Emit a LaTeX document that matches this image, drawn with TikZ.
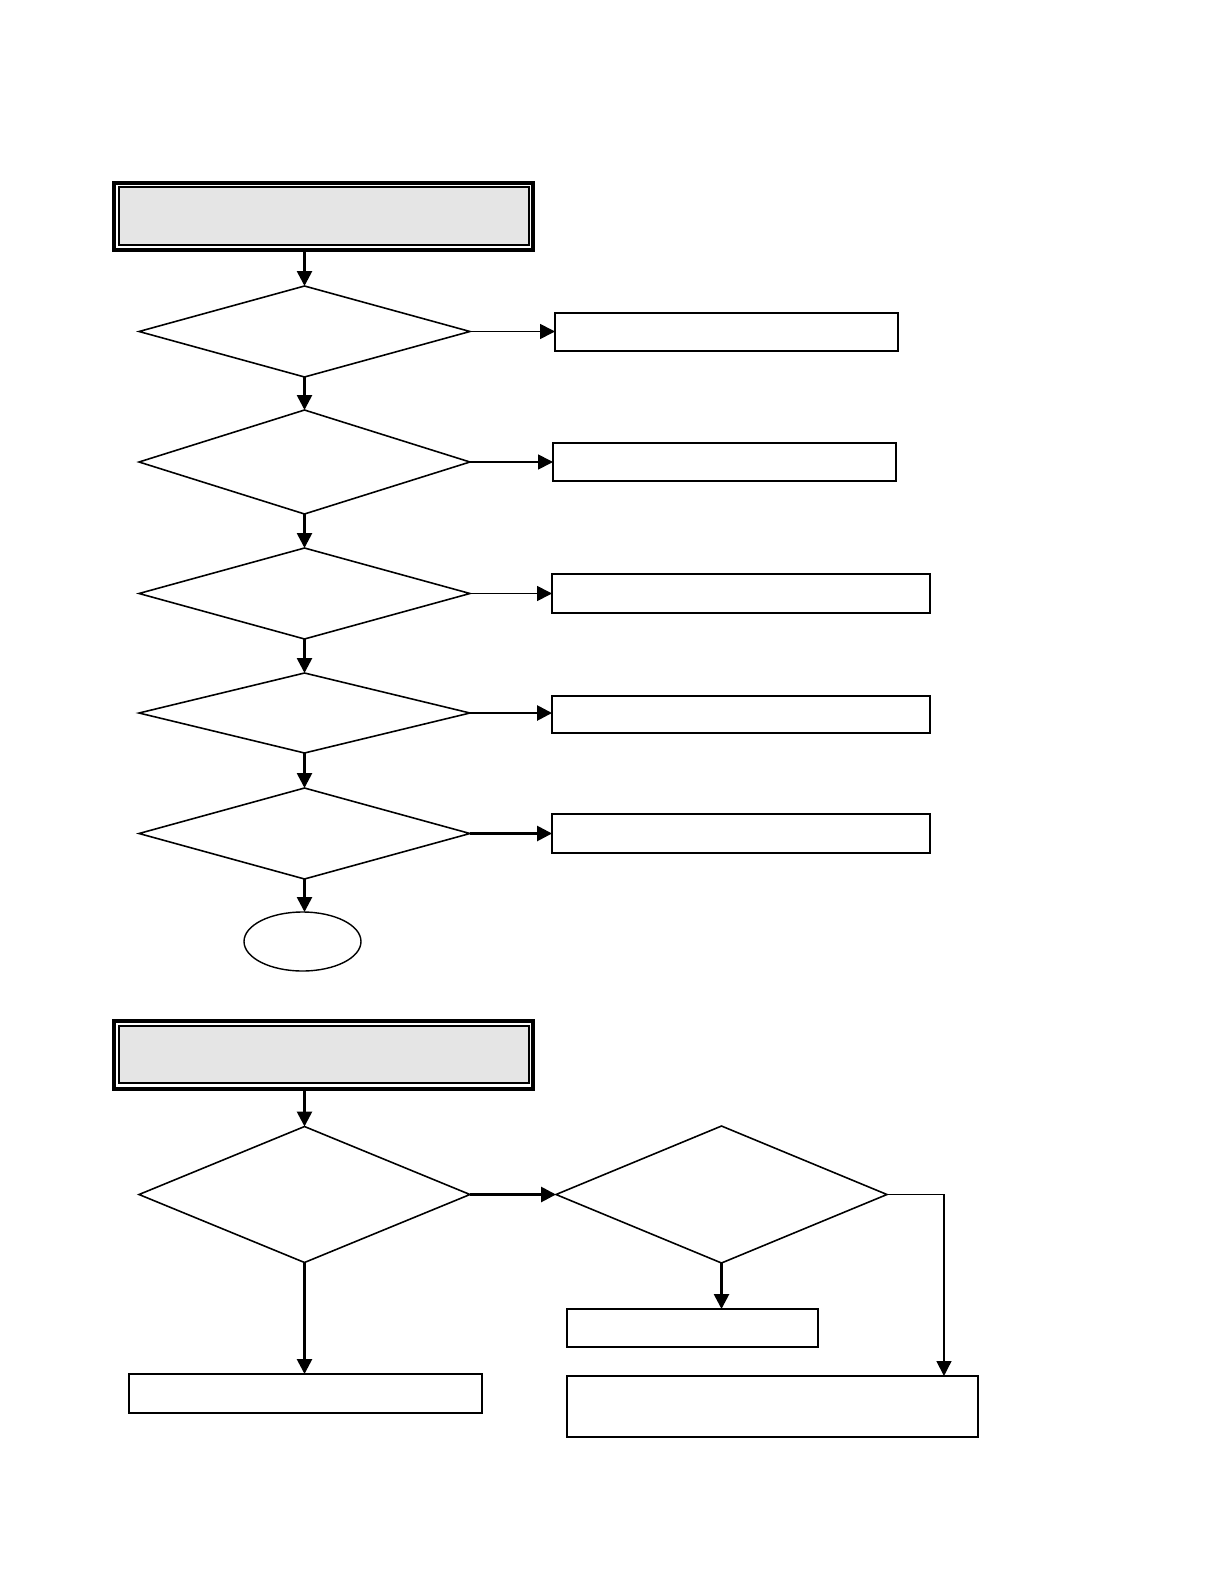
\documentclass[tikz,border=0pt]{standalone}
\usepackage{tikz}
\usetikzlibrary{positioning, arrows.meta, shapes.geometric}

\begin{document}
\begin{tikzpicture}[
    x=0.02cm, y=-0.02cm,
    >={Triangle[length=8.5pt, width=8.5pt]},
    head_box/.style={draw, line width=2pt, fill=white, inner sep=0pt, outer sep=0pt},
    head_in/.style={draw, line width=1.4pt, fill=black!10, inner sep=0pt, outer sep=0pt},
    dec_box/.style={draw, diamond, line width=0.9pt, inner sep=0pt, outer sep=0pt, minimum width=6.62cm},
    act_box/.style={draw, line width=1.2pt, inner sep=0pt, outer sep=0pt},
    thin_box/.style={draw, line width=0.7pt, inner sep=0pt, outer sep=0pt},
    end_box/.style={draw, ellipse, line width=0.8pt, inner sep=0pt, outer sep=0pt, minimum width=2.34cm, minimum height=1.18cm},
    arrow/.style={->, line width=1.5pt},
    thin_arrow/.style={->, line width=0.8pt}
]
\useasboundingbox (0,0) rectangle (1220,1588);

% First chart
\node[head_box, minimum width=8.38cm, minimum height=1.34cm] (head1) at (323.5,216.5) {};
\node[head_in, minimum width=8.2cm, minimum height=1.16cm] (head1in) at (324,216) {};

\node[dec_box, minimum height=1.82cm] (d1) at (304.5,331.5) {};
\node[dec_box, minimum height=2.08cm] (d2) at (304.5,462) {};
\node[dec_box, minimum height=1.82cm] (d3) at (304.5,593.5) {};
\node[dec_box, minimum height=1.6cm] (d4) at (304.5,713) {};
\node[dec_box, minimum height=1.82cm] (d5) at (304.5,833.5) {};
\node[end_box] (end) at (302.5,941.5) {};

\node[act_box, minimum width=6.86cm, minimum height=0.76cm] (b1) at (726.5,332) {};
\node[act_box, minimum width=6.86cm, minimum height=0.76cm] (b2) at (724.5,462) {};
\node[act_box, minimum width=7.56cm, minimum height=0.78cm] (b3) at (741,593.5) {};
\node[thin_box, minimum width=7.56cm, minimum height=0.74cm] (b4) at (741,714.5) {};
\node[thin_box, minimum width=7.56cm, minimum height=0.78cm] (b5) at (741,833.5) {};

% Second chart
\node[head_box, minimum width=8.38cm, minimum height=1.36cm] (head2) at (323.5,1055) {};
\node[head_in, minimum width=8.2cm, minimum height=1.14cm] (head2in) at (324,1054.5) {};

\node[dec_box, minimum height=2.72cm] (d6) at (304.5,1194.5) {};
\node[dec_box, minimum height=2.74cm] (d7) at (721.5,1194.5) {};

\node[act_box, minimum width=7.06cm, minimum height=0.78cm] (b6) at (305.5,1393.5) {};
\node[thin_box, minimum width=5.02cm, minimum height=0.76cm] (b7) at (692.5,1328) {};
\node[act_box, minimum width=8.22cm, minimum height=1.22cm] (b8) at (772.5,1406.5) {};

% Main flow
\draw[arrow] (head1.south -| d1.north) -- (d1.north);
\draw[arrow] (d1.south) -- (d2.north);
\draw[arrow] (d2.south) -- (d3.north);
\draw[arrow] (d3.south) -- (d4.north);
\draw[arrow] (d4.south) -- (d5.north);
\draw[arrow] (d5.south) -- (d5.south |- end.north);

% Side branches
\draw[thin_arrow] (d1.east) -- (d1.east -| b1.west);
\draw[thin_arrow] (d2.east) -- (d2.east -| b2.west);
\draw[thin_arrow] (d3.east) -- (d3.east -| b3.west);
\draw[arrow] (d4.east) -- (d4.east -| b4.west);
\draw[arrow] (d5.east) -- (d5.east -| b5.west);

% Second chart connections
\draw[arrow] (head2.south -| d6.north) -- (d6.north);
\draw[arrow] (d6.east) -- (d7.west);
\draw[arrow] (d6.south) -- (d6.south |- b6.north);
\draw[arrow] (d7.south) -- (d7.south |- b7.north);
\draw[thin_arrow] (d7.east) -| ([xshift=-0.68cm]b8.north east);

\end{tikzpicture}
\end{document}
